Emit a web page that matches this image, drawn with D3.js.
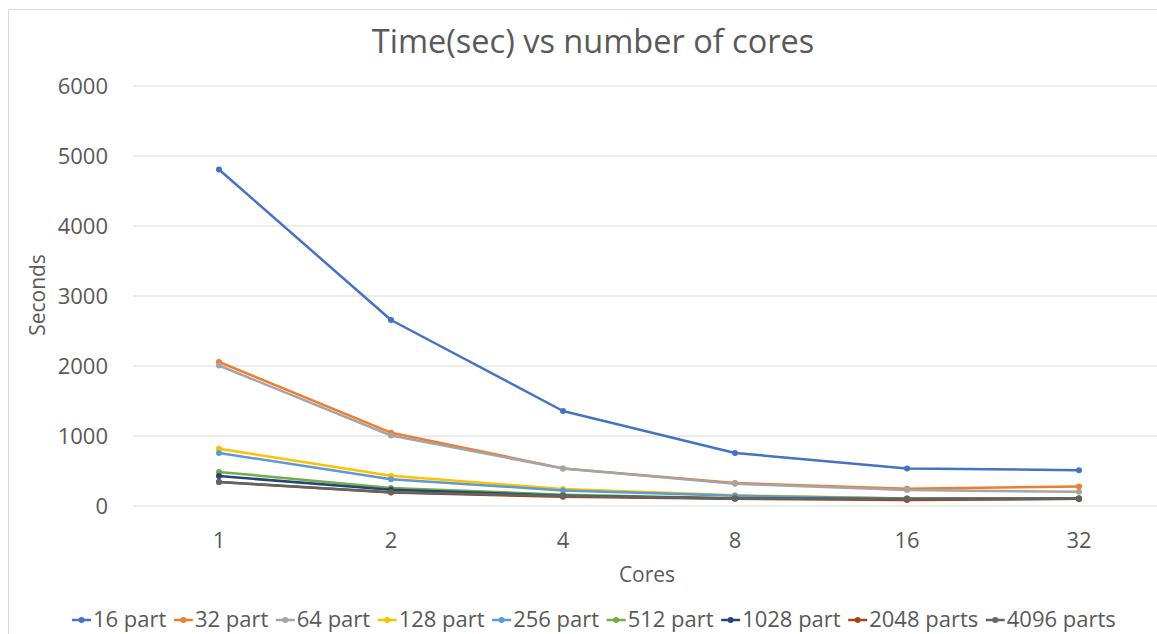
<!DOCTYPE html>
<html>
<head>
<meta charset="UTF-8"/>
<title>Time vs cores</title>
<script src="https://d3js.org/d3.v7.min.js"></script>
<style>
body { margin: 0; background: #fff; font-family: 'Open Sans', sans-serif; }
svg { display: block; }
text { fill: #595959; }
.grid line { stroke: #d9d9d9; stroke-width: 1; }
.grid path { stroke-width: 0; }
</style>
</head>
<body>
<svg width="1157" height="634"></svg>
<script>
const cores = ['1', '2', '4', '8', '16', '32'];
const yTicks = [0, 1000, 2000, 3000, 4000, 5000, 6000];

const seriesNames = ['16 part', '32 part', '64 part', '128 part', '256 part',
  '512 part', '1028 part', '2048 parts', '4096 parts'];
const seriesColors = ['#4472C4', '#ED7D31', '#A5A5A5', '#FFC000', '#5B9BD5',
  '#70AD47', '#264478', '#9E480E', '#636363'];

const part16 = [4800, 2650, 1350, 750, 530, 505];
const part32 = [2050, 1040, 530, 320, 240, 270];
const part64 = [2000, 1000, 530, 310, 220, 195];
const part128 = [810, 425, 235, 145, 100, 100];
const part256 = [750, 375, 215, 140, 100, 100];
const part512 = [480, 250, 155, 105, 95, 100];
const part1028 = [420, 225, 140, 100, 90, 95];
const part2048 = [335, 185, 125, 95, 80, 95];
const part4096 = [335, 190, 135, 100, 95, 100];

const values = [part16, part32, part64, part128, part256, part512, part1028, part2048, part4096];
const series = seriesNames.map((name, i) => ({ name, color: seriesColors[i], values: values[i] }));

const svg = d3.select('svg');

// chart frame
svg.append('rect')
  .attr('x', 8.5).attr('y', 9.5)
  .attr('width', 1200).attr('height', 700)
  .attr('fill', 'none')
  .attr('stroke', '#d9d9d9');

const xScale = d3.scaleBand()
  .domain(cores)
  .range([133, 1165]);

const yScale = d3.scaleLinear()
  .domain([0, 6000])
  .range([505.5, 85.5]);

// horizontal grid
svg.append('g')
  .attr('class', 'grid')
  .attr('transform', 'translate(133, 0)')
  .call(d3.axisLeft(yScale).tickValues(yTicks).tickSize(-1040).tickFormat(''));

// y tick labels
svg.append('g')
  .selectAll('text')
  .data(yTicks)
  .join('text')
  .attr('x', 108)
  .attr('y', d => yScale(d) + 8)
  .attr('text-anchor', 'end')
  .style('font-size', '22px')
  .text(d => d);

// x tick labels
svg.append('g')
  .selectAll('text')
  .data(cores)
  .join('text')
  .attr('x', d => xScale(d) + xScale.bandwidth() / 2)
  .attr('y', 548)
  .attr('text-anchor', 'middle')
  .style('font-size', '22px')
  .text(d => d);

const line = d3.line()
  .x((d, i) => xScale(cores[i]) + xScale.bandwidth() / 2)
  .y(d => yScale(d));

const lines = svg.append('g');
series.forEach(s => {
  const g = lines.append('g');
  g.append('path')
    .attr('d', line(s.values))
    .attr('fill', 'none')
    .attr('stroke', s.color)
    .attr('stroke-width', 2.5)
    .attr('stroke-linejoin', 'round');
  g.selectAll('circle')
    .data(s.values)
    .join('circle')
    .attr('cx', (d, i) => xScale(cores[i]) + xScale.bandwidth() / 2)
    .attr('cy', d => yScale(d))
    .attr('r', 3)
    .attr('fill', s.color);
});

// title
svg.append('text')
  .attr('x', 593)
  .attr('y', 53)
  .attr('text-anchor', 'middle')
  .style('font-size', '32.5px')
  .text('Time(sec) vs number of cores');

// axis titles
svg.append('text')
  .attr('x', 647)
  .attr('y', 582)
  .attr('text-anchor', 'middle')
  .style('font-size', '21px')
  .text('Cores');

svg.append('text')
  .attr('transform', 'translate(45, 295) rotate(-90)')
  .attr('text-anchor', 'middle')
  .style('font-size', '21px')
  .text('Seconds');

// legend
const legend = svg.append('g');
let lx = 72;
series.forEach(s => {
  const item = legend.append('g').attr('transform', `translate(${lx}, 620)`);
  item.append('line')
    .attr('x1', 0).attr('x2', 19)
    .attr('y1', 0).attr('y2', 0)
    .attr('stroke', s.color).attr('stroke-width', 2.5);
  item.append('circle').attr('cx', 9.5).attr('cy', 0).attr('r', 3).attr('fill', s.color);
  const t = item.append('text')
    .attr('x', 21)
    .attr('y', 7)
    .style('font-size', '22px')
    .text(s.name);
  lx += 21 + t.node().getComputedTextLength() + 7.5;
});
</script>
</body>
</html>
